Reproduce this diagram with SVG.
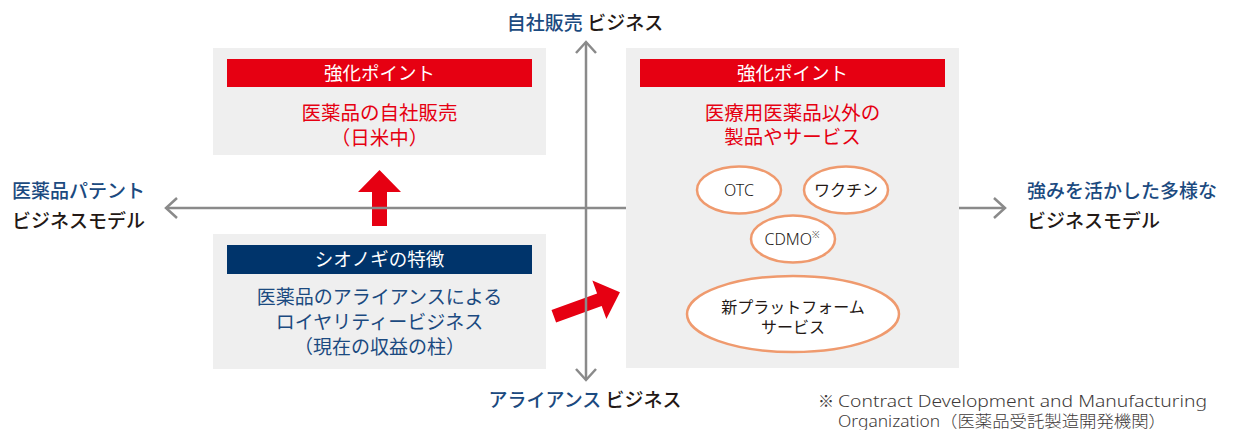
<svg xmlns="http://www.w3.org/2000/svg" width="1234" height="430" viewBox="0 0 1234 430">
<defs>
<style>
text{font-family:"Noto Sans CJK JP","Noto Sans",sans-serif;}
.lat{font-family:"Noto Sans","Noto Sans CJK JP",sans-serif;}
.box{fill:#efefef;}
.hdr{fill:#e60012;}
.nav{fill:#00346b;}
.ht{fill:#fff;font-size:18.5px;text-anchor:middle;}
.red{fill:#e60012;font-size:19.5px;text-anchor:middle;}
.blu{fill:#1b4a80;font-size:19px;text-anchor:middle;}
.ax{fill:#231815;font-size:19px;font-weight:500;}
.axb{fill:#1b4a80;}
.el{fill:#fff;stroke:#ef9a6e;stroke-width:2.5;}
.et{fill:#231815;font-size:16px;text-anchor:middle;}
.lt{font-weight:300;}
.axis{fill:none;stroke:#8a8a8a;stroke-width:2.5;}
.arr{fill:#e60012;}
.fn{fill:#3e3a39;font-size:16px;font-weight:300;}
</style>
<marker id="chev" markerUnits="userSpaceOnUse" markerWidth="30" markerHeight="30" viewBox="-15 -15 30 30" refX="0" refY="0" orient="auto-start-reverse">
<path d="M-11,-10 L0,0 L-11,10" fill="none" stroke="#8a8a8a" stroke-width="2.5"/>
</marker>
</defs>
<rect width="1234" height="430" fill="#fff"/>

<g id="connectors">
<polygon class="arr" points="372,226 372,192 358,192 379.5,170 401,192 387,192 387,226"/>
<polygon class="arr" transform="translate(553.8,316.3) rotate(-20)" points="0,-6.7 48.5,-6.7 48.5,-20.5 70.4,0 48.5,20.5 48.5,6.7 0,6.7"/>
<path class="axis" d="M166,208 L1005,208" marker-start="url(#chev)" marker-end="url(#chev)"/>
<path class="axis" d="M586,380 L586,42" marker-start="url(#chev)" marker-end="url(#chev)"/>
</g>

<g id="label-top">
<text class="ax" x="585" y="30" text-anchor="middle"><tspan class="axb">自社販売</tspan> ビジネス</text>
</g>
<g id="label-bottom">
<text class="ax" x="585" y="407" text-anchor="middle"><tspan class="axb">アライアンス</tspan> ビジネス</text>
</g>
<g id="label-left">
<text class="ax axb" x="12" y="197.5">医薬品パテント</text>
<text class="ax" x="12" y="228">ビジネスモデル</text>
</g>
<g id="label-right">
<text class="ax axb" x="1027" y="197.5">強みを活かした多様な</text>
<text class="ax" x="1027" y="228">ビジネスモデル</text>
</g>

<g id="box-self-sales">
<rect class="box" x="213" y="48" width="333" height="107"/>
<rect class="hdr" x="227" y="59" width="305" height="28"/>
<text class="ht" x="379.5" y="79.5">強化ポイント</text>
<text class="red" x="379.5" y="120">医薬品の自社販売</text>
<text class="red" x="379.5" y="145">（日米中）</text>
</g>

<g id="box-shionogi">
<rect class="box" x="213" y="234" width="333" height="135"/>
<rect class="nav" x="227" y="245" width="305" height="29"/>
<text class="ht" x="379.5" y="266">シオノギの特徴</text>
<text class="blu" x="379.5" y="304">医薬品のアライアンスによる</text>
<text class="blu" x="379.5" y="329">ロイヤリティービジネス</text>
<text class="blu" x="379.5" y="354">（現在の収益の柱）</text>
</g>

<g id="box-diverse">
<rect class="box" x="626" y="48" width="333" height="320"/>
<rect class="hdr" x="640" y="59" width="305" height="28"/>
<text class="ht" x="792.5" y="79.5">強化ポイント</text>
<text class="red" x="792.5" y="120">医療用医薬品以外の</text>
<text class="red" x="792.5" y="144">製品やサービス</text>
</g>

<g id="node-otc">
<ellipse class="el" cx="739" cy="190" rx="42" ry="23.5"/>
<text class="et lat lt" x="739" y="196" font-size="17.5">OTC</text>
</g>
<g id="node-vaccine">
<ellipse class="el" cx="846" cy="190" rx="42" ry="23.5"/>
<text class="et" x="846" y="196">ワクチン</text>
</g>
<g id="node-cdmo">
<ellipse class="el" cx="793" cy="239" rx="42" ry="23.5"/>
<text class="et lat lt" x="792" y="245" font-size="17.5">CDMO<tspan font-size="9" dy="-7">※</tspan></text>
</g>
<g id="node-platform">
<ellipse class="el" cx="793" cy="314" rx="106" ry="38"/>
<text class="et" x="793" y="312.5" font-size="15.5">新プラットフォーム</text>
<text class="et" x="793" y="333" font-size="15.5">サービス</text>
</g>

<g id="footnote">
<text class="fn" x="818" y="407">※</text>
<text class="fn lat" x="838" y="407" textLength="369" lengthAdjust="spacingAndGlyphs">Contract Development and Manufacturing</text>
<text class="fn" x="838" y="427" textLength="328" lengthAdjust="spacingAndGlyphs"><tspan class="lat">Organization</tspan>（医薬品受託製造開発機関）</text>
</g>
</svg>
